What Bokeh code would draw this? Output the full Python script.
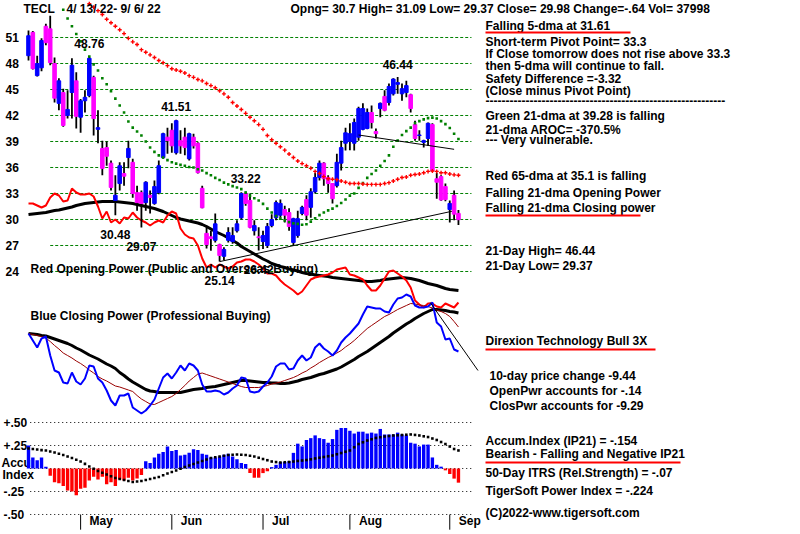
from bokeh.plotting import figure
from bokeh.models import Range1d
from bokeh.embed import file_html
from bokeh.resources import INLINE
from bokeh.core.properties import value

# ---------------- data ----------------
TICKER = "TECL"
PERIOD = "4/ 13/ 22- 9/ 6/ 22"
HEADER = "Opng= 30.7 High= 31.09 Low= 29.37 Close= 29.98 Change=-.64 Vol= 37998"

OPEN = [48.9, 51.6, 46.6, 47.5, 52.3, 52.0, 48.0, 43.4, 44.65, 42.0,
        44.65, 46.0, 41.8, 43.7, 44.3, 46.4, 40.4, 38.2, 38.3, 36.5,
        32.2, 34.15, 35.3, 37.15, 36.6, 33.1, 33.1, 31.95, 32.8, 31.85,
        33.1, 37.15, 39.5, 40.3, 37.7, 39.1, 39.5, 37.0, 39.5, 38.8,
        33.6, 28.4, 28.0, 27.6, 27.1, 25.75, 27.6, 27.45, 28.7, 30.2,
        33.0, 32.2, 28.7, 28.0, 27.45, 27.0, 29.3, 30.2, 30.5, 31.15,
        30.8, 27.35, 28.15, 30.7, 32.3, 31.4, 33.2, 34.85, 36.5, 34.85,
        34.15, 33.9, 36.5, 38.8, 39.0, 38.8, 39.5, 40.4, 40.5, 42.35,
        40.15, 42.8, 44.2, 43.5, 44.5, 45.6, 44.5, 44.65, 44.4, 40.95,
        39.7, 38.9, 39.35, 40.95, 34.7, 34.95, 33.8, 31.15, 32.8, 30.7]
HIGH = [51.8, 51.75, 48.9, 50.9, 52.6, 53.5, 48.7, 46.3, 45.1, 44.9,
        48.6, 47.0, 43.9, 44.9, 48.76, 46.6, 42.6, 39.1, 39.0, 36.8,
        35.1, 36.6, 36.6, 39.1, 37.0, 33.9, 33.35, 34.4, 33.35, 34.5,
        36.8, 40.0, 40.6, 41.1, 41.51, 40.3, 40.6, 40.0, 39.9, 38.9,
        33.9, 29.1, 28.7, 30.7, 27.2, 26.8, 29.1, 29.1, 29.9, 33.15,
        33.22, 33.0, 29.9, 29.1, 28.7, 29.6, 30.6, 32.2, 32.3, 31.6,
        31.3, 30.2, 31.0, 31.6, 32.8, 33.6, 35.4, 36.8, 36.6, 35.1,
        34.2, 37.6, 39.1, 40.6, 41.1, 41.65, 43.0, 43.4, 42.8, 43.15,
        40.5, 43.5, 44.9, 45.7, 46.3, 46.44, 45.7, 46.0, 44.5, 41.4,
        40.3, 39.2, 41.2, 41.1, 35.4, 35.1, 34.15, 32.2, 33.35, 31.09]
LOW = [48.35, 47.3, 46.5, 47.1, 50.1, 47.8, 43.5, 42.6, 40.7, 41.65,
       41.65, 40.5, 40.0, 42.35, 44.1, 39.7, 38.8, 35.1, 36.2, 33.35,
       30.48, 33.35, 33.9, 35.9, 32.5, 31.0, 29.07, 31.0, 30.7, 31.7,
       32.9, 37.0, 37.6, 37.7, 37.5, 37.6, 37.4, 36.8, 38.2, 35.3,
       31.3, 26.65, 26.4, 27.35, 25.14, 25.3, 27.35, 27.2, 28.5, 30.0,
       31.6, 29.0, 28.15, 26.42, 26.6, 26.7, 29.1, 29.9, 30.2, 29.65,
       28.7, 27.0, 27.9, 30.5, 29.9, 30.2, 33.0, 34.5, 33.9, 33.1,
       31.85, 33.7, 35.65, 37.96, 38.0, 37.96, 39.1, 40.3, 40.4, 40.5,
       39.35, 41.8, 42.5, 43.15, 44.3, 44.5, 43.7, 44.1, 42.35, 39.1,
       39.1, 38.3, 38.5, 35.5, 32.4, 32.15, 32.1, 29.65, 29.9, 29.37]
CLOSE = [51.2, 47.4, 48.0, 50.65, 50.4, 48.1, 44.0, 46.0, 40.85, 42.7,
         47.8, 41.9, 43.7, 44.1, 48.6, 41.65, 40.6, 35.9, 37.3, 33.7,
         32.8, 36.2, 35.0, 38.2, 33.0, 31.95, 31.85, 34.3, 32.55, 33.8,
         36.2, 39.9, 39.1, 38.5, 41.4, 38.5, 38.3, 39.9, 38.5, 35.4,
         31.35, 27.1, 27.8, 29.5, 25.85, 26.55, 28.5, 28.15, 29.5, 33.0,
         31.85, 29.1, 29.3, 27.9, 28.15, 29.2, 30.0, 31.95, 31.85, 30.5,
         29.2, 30.1, 30.1, 31.4, 30.5, 33.2, 34.85, 36.5, 34.7, 34.15,
         32.4, 36.6, 38.3, 40.0, 39.9, 41.2, 42.8, 42.8, 42.35, 41.2,
         39.9, 43.4, 42.6, 45.35, 46.2, 45.8, 45.1, 45.45, 42.8, 39.35,
         39.75, 39.1, 41.1, 35.65, 34.3, 32.25, 32.3, 31.85, 30.62, 29.98]

MA65_START = 14
MA65 = [54.9, 54.5, 54.1, 53.65, 53.1, 52.7, 52.3, 51.9, 51.45, 50.9,
        50.5, 50.2, 49.6, 49.3, 49.0, 48.7, 48.35, 48.1, 47.75, 47.4,
        47.25, 47.1, 46.9, 46.6, 46.4, 46.15, 46.0, 45.7, 45.45, 45.2,
        44.85, 44.5, 44.1, 43.5, 43.1, 42.7, 42.25, 41.8, 41.4, 40.95,
        40.4, 39.7, 39.2, 38.8, 38.4, 38.0, 37.55, 37.15, 36.75, 36.45,
        36.2, 35.9, 35.55, 35.3, 34.95, 34.7, 34.65, 34.6, 34.45, 34.3,
        34.15, 34.15, 34.15, 34.1, 34.05, 34.05, 34.05, 34.05, 34.15, 34.25,
        34.45, 34.65, 34.85, 34.9, 35.1, 35.2, 35.25, 35.4, 35.55, 35.6,
        35.55, 35.4, 35.4, 35.25, 35.15, 35.1]
MA21_START = 8
MA21 = [54.2, 53.2, 52.3, 51.4, 50.55, 49.6, 48.8, 47.9, 47.2, 46.3,
        45.6, 44.8, 43.95, 43.15, 42.35, 41.3, 40.6, 40.15, 39.7, 39.0,
        38.3, 37.8, 37.4, 37.15, 36.85, 36.6, 36.45, 36.3, 36.2, 36.05,
        36.0, 35.8, 35.65, 35.35, 35.1, 34.8, 34.55, 34.25, 34.05, 33.85,
        33.7, 33.5, 33.1, 32.75, 32.45, 32.2, 31.8, 31.25, 30.8, 30.4,
        30.1, 29.9, 29.7, 29.55, 29.5, 29.4, 29.45, 29.75, 30.15, 30.5,
        30.8, 31.05, 31.25, 31.55, 31.9, 32.3, 32.75, 33.0, 33.65, 34.2,
        34.8, 35.25, 35.65, 36.2, 36.75, 37.4, 38.4, 39.1, 39.75, 40.2,
        40.6, 41.1, 41.35, 41.55, 41.7, 41.75, 41.65, 41.35, 41.0, 40.55,
        39.9, 39.28]

# Opening power (red) and its moving average (black), arbitrary units
OPEN_POWER = [87, 87, 85, 83, 85, 93, 97, 95, 89, 90,
              102, 98, 96, 96, 97, 94, 84, 72, 79, 68,
              71, 67, 73, 72, 78, 73, 70, 68, 65, 68,
              70, 68, 75, 79, 77, 62, 56, 53, 52, 45,
              32, 23, 26, 23, 26, 24, 22, 24, 28, 29,
              31, 31, 29, 26, 22, 17, 17, 15, 10, 6,
              3, 0, -4, -1, 5, 11, 13, 14, 15, 16,
              18, 21, 22, 23, 16, 15, 13, 11, 5, 0,
              0, 5, 12, 19, 20, 17, 14, 10, 3, -10,
              -14, -17, -13, -13, -16, -17, -13, -15, -17, -12]
OPEN_POWER_MA = [76, 76.5, 77, 77.5, 78, 79, 80, 80.5, 81.5, 82.5,
                 83.5, 85, 86, 87, 87.5, 88, 88.5, 89, 89, 89,
                 89, 88.5, 88, 87.5, 87, 86, 85, 84, 83, 82,
                 80.5, 79, 77, 75, 73, 71.5, 70.5, 69.5, 68.5, 67.5,
                 66, 64, 61.5, 59, 57, 55, 52.5, 50, 47.5, 44,
                 41.5, 39, 36.5, 34, 31.5, 29.5, 27, 25.5, 24, 23,
                 21.5, 20.5, 19.5, 18, 17, 16.5, 15.5, 15, 14.5, 14,
                 13, 12.5, 12, 11.5, 11, 10.5, 10, 9.5, 9, 9,
                 9.5, 10, 11, 11.5, 12, 12.5, 13, 12.5, 12, 11,
                 10, 8.5, 7, 6, 5, 3.5, 2, 1, 0.5, 0]

# Closing power (blue) and its moving averages, arbitrary units
CLOSE_POWER = [87, 80, 73, 82, 84, 65, 50, 48, 38, 37,
               48, 39, 36, 42, 55, 54, 42, 38, 30, 20,
               15, 25, 25, 27, 13, 10, 7, 10, 15, 21,
               32, 43, 47, 42, 48, 55, 50, 57, 55, 50,
               36, 29, 29, 30, 29, 26, 28, 32, 35, 43,
               42, 29, 28, 29, 34, 38, 44, 54, 57, 57,
               51, 52, 60, 65, 60, 63, 73, 77, 72, 69,
               65, 70, 78, 83, 87, 92, 97, 106, 114, 113,
               112, 112, 109, 108, 116, 122, 123, 126, 124, 115,
               113, 113, 114, 118, 98, 94, 81, 82, 71, 69]
CLOSE_POWER_MA = [87, 86.5, 86, 85, 84.5, 83, 81.5, 80, 78.5, 77,
                  75, 72.5, 70.5, 68, 65.5, 63.5, 61.5, 59, 56.5, 54.5,
                  52, 48, 45, 41.5, 38.5, 36, 33.5, 31, 29.5, 29,
                  28, 28, 28, 28, 28, 28, 29, 30, 31, 31.5,
                  32, 33, 33.5, 34, 35, 36, 37, 38, 39, 40,
                  40, 39.5, 39, 38.5, 38, 38, 37.5, 37.5, 37, 37,
                  37.5, 38.5, 39.5, 41, 42, 43, 44.5, 46, 47, 48.5,
                  50, 51.5, 53.5, 56, 58.5, 61, 64, 66.5, 69, 72,
                  75, 78, 81, 84, 87.5, 90.5, 93.5, 96.5, 99, 102,
                  104.5, 107, 109, 111, 111, 110.5, 110, 109, 108.5, 107.5]
CLOSE_POWER_MA_SHORT = [87, 86, 85, 84, 82.5, 79, 75, 71.5, 67.5, 65,
                        62.5, 59.5, 57, 54, 50.5, 47.5, 44, 41.5, 39.5, 37,
                        34.5, 33.5, 32, 30.5, 29, 25, 21.5, 19, 16.5, 16,
                        18, 20, 22, 24, 27, 31, 35, 39.5, 43, 46.5,
                        47.5, 46, 44.5, 43, 41.5, 40, 38.5, 37, 35.5, 34,
                        33, 33, 33, 33, 34, 35, 36.5, 37.5, 38.5, 40,
                        41.5, 43, 45, 47.5, 49.5, 52.5, 55, 58, 60.5, 63,
                        65, 67.5, 70, 73.5, 76.5, 80, 84, 88, 92, 95,
                        98, 101, 104, 106, 108.5, 111, 113, 115, 117, 116.5,
                        115.5, 115, 114, 112.5, 110.5, 109, 107, 104, 99, 93.5]

ACCUM = [0.25, 0.12, 0.09, 0.12, 0.02,
         -0.08, -0.15, -0.16, -0.19, -0.24, -0.25, -0.29, -0.22, -0.21, -0.13, -0.09,
         -0.12, -0.09, -0.17, -0.15, -0.19, -0.12, -0.13, -0.10, -0.13, -0.11, -0.07,
         0.08, 0.06, 0.12, 0.16, 0.18, 0.24, 0.19, 0.20, 0.14, 0.15, 0.17, 0.21,
         0.20, 0.16, 0.15, 0.12, 0.12, 0.13, 0.15, 0.16, 0.13, 0.10, 0.06, 0.05,
         -0.05, -0.10, -0.10, -0.05, -0.03,
         0.015, 0.04, 0.07, 0.07, 0.08, 0.17, 0.27, 0.24, 0.31, 0.33,
         0.36, 0.33, 0.32, 0.28, 0.32, 0.42, 0.44, 0.44, 0.41, 0.38,
         0.40, 0.40, 0.38, 0.39, 0.38, 0.43, 0.37, 0.37, 0.37, 0.39,
         0.37, 0.36, 0.28, 0.27, 0.24, 0.26, 0.26, 0.12, 0.04,
         0.02, -0.02, -0.06, -0.11, -0.154]
ACCUM_MA = [0.217, 0.212, 0.207, 0.20, 0.196, 0.185, 0.174, 0.16, 0.147, 0.13,
            0.114, 0.095, 0.076, 0.05, 0.022, -0.003, -0.027, -0.046, -0.065, -0.084,
            -0.103, -0.114, -0.125, -0.136, -0.147, -0.142, -0.136, -0.125, -0.114, -0.103,
            -0.092, -0.073, -0.054, -0.038, -0.022, -0.003, 0.016, 0.033, 0.049, 0.065,
            0.082, 0.098, 0.114, 0.122, 0.13, 0.139, 0.147, 0.15, 0.152, 0.15,
            0.147, 0.139, 0.13, 0.117, 0.103, 0.09, 0.076, 0.07, 0.065, 0.068,
            0.071, 0.076, 0.082, 0.087, 0.092, 0.10, 0.109, 0.117, 0.125, 0.133,
            0.141, 0.155, 0.168, 0.182, 0.196, 0.231, 0.266, 0.285, 0.304, 0.318,
            0.332, 0.34, 0.348, 0.353, 0.359, 0.361, 0.364, 0.367, 0.37, 0.365,
            0.359, 0.35, 0.342, 0.326, 0.31, 0.288, 0.266, 0.239, 0.212, 0.196]

PRICE_TICKS = [51, 48, 45, 42, 39, 36, 33, 30, 27, 24]
ACCUM_TICKS = [0.5, 0.25, 0.0, -0.25, -0.5]
ACCUM_TICK_LABELS = ["+.50", "+.25", "", "-.25", "-.50"]
MONTH_IDX = [12, 33, 54, 74, 97]
MONTH_LABELS = ["May", "Jun", "Jul", "Aug", "Sep"]

HIGH_MARKS = [14, 34, 50, 85]
LOW_MARKS = [20, 26, 44, 53]

SUPPORT_X, SUPPORT_Y = [44, 97.5], [25.14, 30.95]
RESIST_X, RESIST_Y = [76, 98], [39.75, 38.1]
CP_TREND_X, CP_TREND_Y = [92.5, 103.5], [118, 50]

RIGHT_TEXT = [
    (485, 25, "Falling 5-dma at 31.61"),
    (485, 41, "Short-term Pivot Point= 33.3"),
    (485, 53, "If Close tomorrow does not rise above 33.3"),
    (485, 65, "then 5-dma will continue to fall."),
    (485, 78, "Safety Difference =-3.32"),
    (485, 90, " (Close minus Pivot Point)"),
    (485, 100, "-" * 60),
    (485, 115, "Green 21-dma at  39.28 is falling"),
    (485, 129, "21-dma AROC= -370.5%"),
    (485, 139, "--- Very vulnerable."),
    (485, 175, "Red 65-dma at  35.1 is falling"),
    (485, 192, "Falling 21-dma Opening Power"),
    (485, 207, "Falling 21-dma Closing power"),
    (485, 250, "21-Day High= 46.44"),
    (485, 265, "21-Day Low= 29.37"),
    (485, 340, "Direxion Technology Bull 3X"),
    (489, 375, "10-day price change -9.44"),
    (489, 390, "OpenPwr accounts for -.14"),
    (489, 405, "ClosPwr accounts for -9.29"),
    (485, 440, "Accum.Index (IP21) = -.154"),
    (485, 453, "Bearish - Falling and Negative IP21"),
    (485, 472, "50-Day ITRS (Rel.Strength) = -.07"),
    (485, 490, "TigerSoft Power Index = -.224"),
    (485, 512, "(C)2022-www.tigersoft.com"),
]
UNDERLINES = [(485, 630, 32), (485, 640, 215), (485, 655, 349), (485, 680, 462)]

# ---------------- figure ----------------
N = len(CLOSE)
IDX = list(range(N))
FONT = value("Liberation Sans")

p = figure(width=800, height=534, output_backend="svg", toolbar_location=None,
           x_range=Range1d(-6.447, 177.76), y_range=Range1d(-6.346, 55.269),
           x_axis_location=None, y_axis_location=None, min_border=0)
p.outline_line_color = None
p.xgrid.visible = False
p.ygrid.visible = False
p.background_fill_color = "white"
p.border_fill_color = "white"
p.extra_y_ranges = {"op": Range1d(-244, 290), "cp": Range1d(-114, 420),
                    "acc": Range1d(-0.7174, 5.087), "py": Range1d(534, 0)}
p.extra_x_ranges = {"px": Range1d(0, 800)}


def texts(xs, ys, strs, xr=None, yr=None, align="left", color="black", size="12px", **kw):
    args = dict(x=xs, y=ys, text=strs, text_font=FONT, text_font_size=size,
                text_font_style="bold", text_baseline="middle", text_align=align,
                text_color=color)
    if xr:
        args["x_range_name"] = xr
    if yr:
        args["y_range_name"] = yr
    args.update(kw)
    p.text(**args)


# grids
p.segment(x0=[5] * len(PRICE_TICKS), x1=[102] * len(PRICE_TICKS), y0=PRICE_TICKS, y1=PRICE_TICKS,
          line_color="#008000", line_width=1, line_dash="3 2")
p.segment(x0=[0.4] * len(ACCUM_TICKS), x1=[102.3] * len(ACCUM_TICKS), y0=ACCUM_TICKS, y1=ACCUM_TICKS,
          line_color="black", line_width=1, line_dash="1 3", y_range_name="acc")

# axis labels
texts([5] * len(PRICE_TICKS), PRICE_TICKS, [str(t) for t in PRICE_TICKS], xr="px")
texts([3] * len(ACCUM_TICKS), ACCUM_TICKS, ACCUM_TICK_LABELS, xr="px", yr="acc")
texts([1, 2], [0.065, -0.075], ["Accu", "Index"], xr="px", yr="acc")

# opening power
p.line(IDX, OPEN_POWER_MA, line_color="black", line_width=3, y_range_name="op")
p.line(IDX, OPEN_POWER, line_color="#ff0000", line_width=2, y_range_name="op")

# closing power
p.line(IDX, CLOSE_POWER_MA, line_color="black", line_width=3, y_range_name="cp")
p.line(IDX, CLOSE_POWER_MA_SHORT, line_color="#990000", line_width=1, y_range_name="cp")
p.line(IDX, CLOSE_POWER, line_color="#0000ff", line_width=2, y_range_name="cp")
p.line(CP_TREND_X, CP_TREND_Y, line_color="black", line_width=1, y_range_name="cp")

# candles
body_top = [max(o, c) for o, c in zip(OPEN, CLOSE)]
body_bot = [min(o, c) for o, c in zip(OPEN, CLOSE)]
body_col = ["#0000ff" if c >= o else "#ff00ff" for o, c in zip(OPEN, CLOSE)]
p.segment(x0=IDX, x1=IDX, y0=LOW, y1=HIGH, line_color="black", line_width=1.8)
p.vbar(x=IDX, width=0.82, top=body_top, bottom=body_bot, fill_color=body_col, line_color=body_col)

# moving averages
p.scatter(list(range(MA21_START, N)), MA21, marker="square", size=2.6, fill_color="#008000", line_color=None)
p.scatter(list(range(MA65_START, N)), MA65, marker="cross", size=4, line_width=1.4, line_color="#ff0000")

# trend lines
p.line(SUPPORT_X, SUPPORT_Y, line_color="black", line_width=1)
p.line(RESIST_X, RESIST_Y, line_color="black", line_width=1)

# accumulation index
acc_top = [max(a, 0) for a in ACCUM]
acc_bot = [min(a, 0) for a in ACCUM]
acc_col = ["#0000ff" if a >= 0 else "#ff0000" for a in ACCUM]
p.vbar(x=IDX, width=0.78, top=acc_top, bottom=acc_bot, fill_color=acc_col, line_color=None,
       y_range_name="acc")
p.scatter(IDX, ACCUM_MA, marker="square", size=2.6, fill_color="black", line_color=None, y_range_name="acc")

# month ticks and labels
p.segment(x0=MONTH_IDX, x1=MONTH_IDX, y0=[-0.5] * 5, y1=[-0.665] * 5, line_color="black", line_width=1,
          y_range_name="acc")
texts(MONTH_IDX, [-0.575] * 5, MONTH_LABELS, yr="acc", x_offset=9)

# data labels for highs and lows
texts(HIGH_MARKS, [HIGH[i] for i in HIGH_MARKS], ["%.2f" % HIGH[i] for i in HIGH_MARKS],
      align="center", y_offset=-13)
texts(LOW_MARKS, [LOW[i] for i in LOW_MARKS], ["%.2f" % LOW[i] for i in LOW_MARKS],
      align="center", y_offset=19)

# panel captions
texts([30, 30], [268, 315], ["Red Opening Power (Public and Overseas Buying)",
                             "Blue Closing Power (Professional Buying)"], xr="px", yr="py")

# header
texts([23, 66, 290], [8, 8, 8], [TICKER, PERIOD, HEADER], xr="px", yr="py")

# right-hand text panel
texts([t[0] for t in RIGHT_TEXT], [t[1] for t in RIGHT_TEXT], [t[2] for t in RIGHT_TEXT], xr="px", yr="py")
p.segment(x0=[u[0] for u in UNDERLINES], x1=[u[1] for u in UNDERLINES],
          y0=[u[2] for u in UNDERLINES], y1=[u[2] for u in UNDERLINES],
          line_color="#ff0000", line_width=2, x_range_name="px", y_range_name="py")

open("out.html", "w").write(file_html(p, INLINE))
